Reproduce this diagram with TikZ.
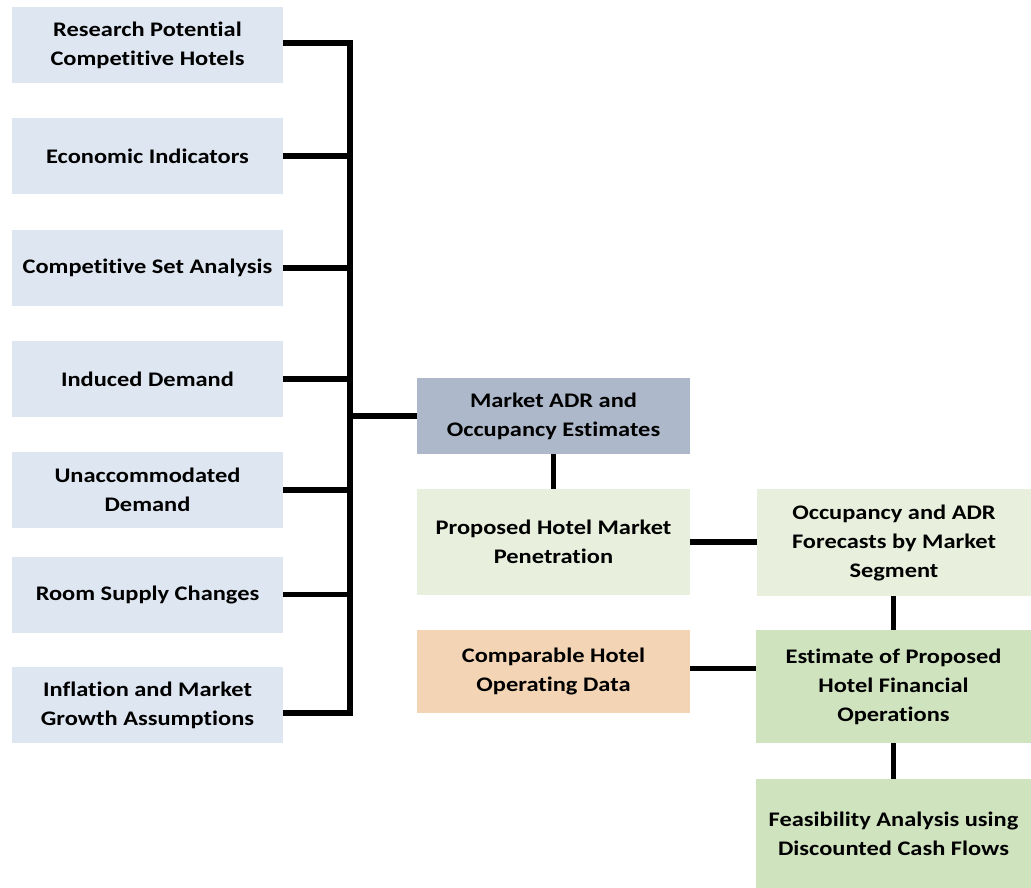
\documentclass[tikz,border=0pt]{standalone}
\usepackage{fontspec}
\setmainfont{Carlito}[FakeStretch=1.18, Ligatures={NoCommon}]
\definecolor{leftblue}{HTML}{DEE6F1}
\definecolor{adrblue}{HTML}{ADB9CA}
\definecolor{palegreen}{HTML}{E8F0DD}
\definecolor{peach}{HTML}{F3D5B5}
\definecolor{midgreen}{HTML}{CFE3BF}
\tikzset{
  box/.style={rectangle, inner sep=0pt, outer sep=0pt, align=center,
    font=\fontsize{20.7pt}{29pt}\selectfont\bfseries},
  lbox/.style={box, fill=leftblue, minimum width=271pt, minimum height=76pt},
  rbox/.style={box, minimum width=274pt},
  link/.style={line width=5.7pt, line join=miter, line cap=butt}
}
\begin{document}
\begin{tikzpicture}[x=1pt,y=-1pt]
\useasboundingbox (0,0) rectangle (1031,888);
% left column
\node[lbox] (l1) at (147.5,45)  {Research Potential\\Competitive Hotels};
\node[lbox] (l2) at (147.5,156) {Economic Indicators};
\node[lbox] (l3) at (147.5,268) {Competitive Set Analysis};
\node[lbox] (l4) at (147.5,379) {Induced Demand};
\node[lbox] (l5) at (147.5,490) {Unaccommodated\\Demand};
\node[lbox] (l6) at (147.5,594.5) {Room Supply Changes};
\node[lbox] (l7) at (147.5,705) {Inflation and Market\\Growth Assumptions};
% middle / right
\node[rbox, fill=adrblue, minimum width=273pt, minimum height=76pt] (m) at (553.5,416) {Market ADR and\\Occupancy Estimates};
\node[rbox, fill=palegreen, minimum width=273pt, minimum height=106pt] (p) at (553.5,542) {Proposed Hotel Market\\Penetration};
\node[rbox, fill=palegreen, minimum height=107pt] (o) at (894,542.5) {Occupancy and ADR\\Forecasts by Market\\Segment};
\node[rbox, fill=peach, minimum width=273pt, minimum height=83pt] (c) at (553.5,671.5) {Comparable Hotel\\Operating Data};
\node[rbox, fill=midgreen, minimum width=275pt, minimum height=113pt] (e) at (893.5,686.5) {Estimate of Proposed\\Hotel Financial\\Operations};
\node[rbox, fill=midgreen, minimum width=275pt, minimum height=109pt] (f) at (893.5,833.5) {Feasibility Analysis using\\Discounted Cash Flows};
% bus
\coordinate (bend) at (350,713);
\draw[link] ([yshift=2pt]l1.east) -| (bend) -- ([yshift=-8pt]l7.east);
\draw[link] (l2.east) -- (l2.east -| bend);
\draw[link] (l3.east) -- (l3.east -| bend);
\draw[link] (l4.east) -- (l4.east -| bend);
\draw[link] (l5.east) -- (l5.east -| bend);
\draw[link] (l6.east) -- (l6.east -| bend);
\draw[link] (m.west) -- (m.west -| bend);
% flow
\draw[link] (m.south) -- (p.north);
\draw[link] (p.east) -- (p.east -| o.west);
\draw[link] (o.south -| e.north) -- (e.north);
\draw[link] ([yshift=3pt]c.east) -- ([yshift=3pt]c.east -| e.west);
\draw[link] (e.south) -- (f.north);
\end{tikzpicture}
\end{document}
